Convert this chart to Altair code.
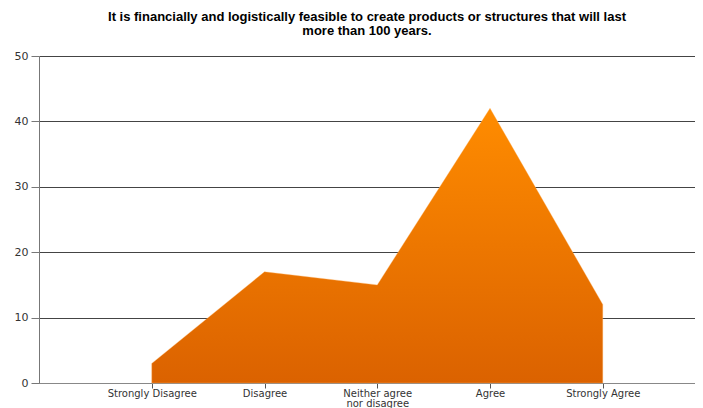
import altair as alt
import pandas as pd
import json

categories = ["Strongly Disagree", "Disagree", "Neither agree nor disagree", "Agree", "Strongly Agree"]
label_lines = [["Strongly Disagree"], ["Disagree"], ["Neither agree", "nor disagree"], ["Agree"], ["Strongly Agree"]]
values = [3, 17, 15, 42, 12]
y_ticks = [0, 10, 20, 30, 40, 50]

df = pd.DataFrame({"idx": list(range(len(categories))), "category": categories, "value": values})

label_expr = json.dumps(label_lines) + "[datum.value]"

area = alt.Chart(df).mark_area(
    color=alt.Gradient(
        gradient="linear",
        stops=[alt.GradientStop(color="#FF8C00", offset=0), alt.GradientStop(color="#DB6200", offset=1)],
        x1=0, x2=0, y1=0, y2=1,
    ),
    stroke="#FFB060", strokeWidth=0.6, strokeOpacity=0.6,
).encode(
    x=alt.X("idx:Q",
            scale=alt.Scale(domain=[-1, 4.818], nice=False, zero=False),
            axis=alt.Axis(values=[0, 1, 2, 3, 4], labelExpr=label_expr, title=None, grid=False,
                          domainColor="#888", tickColor="#555", tickSize=5,
                          labelFont="DejaVu Sans", labelFontSize=10, labelColor="#333",
                          labelPadding=0, labelLineHeight=10)),
    y=alt.Y("value:Q",
            scale=alt.Scale(domain=[0, 50], nice=False),
            axis=alt.Axis(values=y_ticks, title=None, grid=True, gridColor="#444", gridWidth=1,
                          domainColor="#777", tickColor="#777", tickSize=8,
                          labelFont="DejaVu Sans", labelFontSize=11, labelColor="#333",
                          labelPadding=3)),
)

chart = area.properties(
    width=656,
    height=327,
    title=alt.TitleParams(
        text=["It is financially and logistically feasible to create products or structures that will last",
              "more than 100 years."],
        font="Liberation Sans", fontSize=13, fontWeight="bold", color="#000",
        anchor="middle", offset=12, lineHeight=14,
    ),
    padding={"left": 6, "top": 3, "right": 0, "bottom": 0},
).configure_view(stroke=None).configure_axis(gridOpacity=1)

chart.save("out.html", embed_options={"renderer": "svg", "actions": False})
